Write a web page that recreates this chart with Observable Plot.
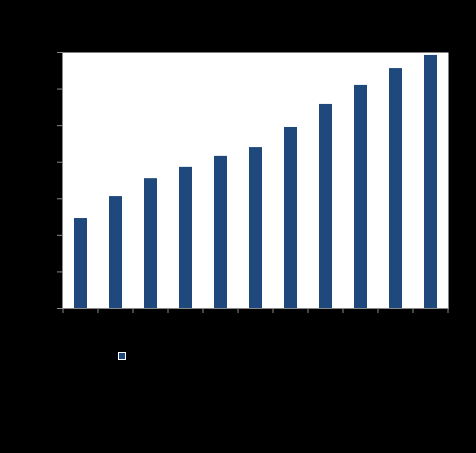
<!DOCTYPE html>
<html>
<head>
<meta charset="utf-8">
<script src="https://cdn.jsdelivr.net/npm/d3@7"></script>
<script src="https://cdn.jsdelivr.net/npm/@observablehq/plot@0.6"></script>
<style>
  html, body { margin: 0; padding: 0; background: #000; }
  #wrap { position: relative; width: 476px; height: 453px; background: #000; font-family: "Liberation Sans", Arial, sans-serif; }
  #legend { position: absolute; left: 118px; top: 350px; display: flex; align-items: center; gap: 4px; font-size: 11px; color: #000; }
  #legend .sw { width: 6px; height: 6px; border: 1px solid #fff; background: #1f497d; }
</style>
</head>
<body>
<div id="wrap">
  <div id="chart"></div>
  <div id="legend"><span class="sw"></span><span>Series 1</span></div>
</div>
<script>
const categories = ["2010","2011","2012","2013","2014","2015","2016","2017","2018","2019","2020"];
const values = [2.46, 3.06, 3.55, 3.86, 4.16, 4.40, 4.95, 5.58, 6.10, 6.56, 6.92];
const yTicks = [0, 1, 2, 3, 4, 5, 6, 7];

const data = categories.map((c, i) => ({category: c, value: values[i]}));
const axisGray = "#8a8a8a";

// boundary ticks between bands, computed from the band scale
function boundaryTicks(index, scales, values, dims) {
  const x = scales.x;
  const step = x.step();
  const first = x(categories[0]) - step * x.paddingInner() / 2 + 0; 
  const g = d3.create("svg:g");
  const y0 = dims.height - dims.marginBottom;
  const start = x(categories[0]) - (step - x.bandwidth()) / 2;
  for (let i = 0; i <= categories.length; i++) {
    const px = start + i * step;
    g.append("line")
      .attr("x1", px).attr("x2", px)
      .attr("y1", y0).attr("y2", y0 + 5)
      .attr("stroke", axisGray);
  }
  return g.node();
}

const chart = Plot.plot({
  width: 476,
  height: 453,
  marginTop: 52,
  marginBottom: 145,
  marginLeft: 62,
  marginRight: 28,
  style: {background: "#000", color: "#000", fontSize: "10px"},
  x: {type: "band", domain: categories, paddingInner: 0.63, paddingOuter: 0.315, axis: null},
  y: {domain: [0, 7], axis: null},
  marks: [
    Plot.frame({fill: "#fff", stroke: null}),
    Plot.barY(data, {x: "category", y: "value", fill: "#1f497d"}),
    Plot.frame({anchor: "left", stroke: axisGray}),
    Plot.frame({anchor: "bottom", stroke: axisGray}),
    Plot.axisY(yTicks, {tickSize: 5, stroke: axisGray, fill: "#000", tickPadding: 3}),
    Plot.axisX(categories, {tickSize: 0, fill: "#000", tickPadding: 8}),
    boundaryTicks
  ]
});
document.getElementById("chart").appendChild(chart);
</script>
</body>
</html>
